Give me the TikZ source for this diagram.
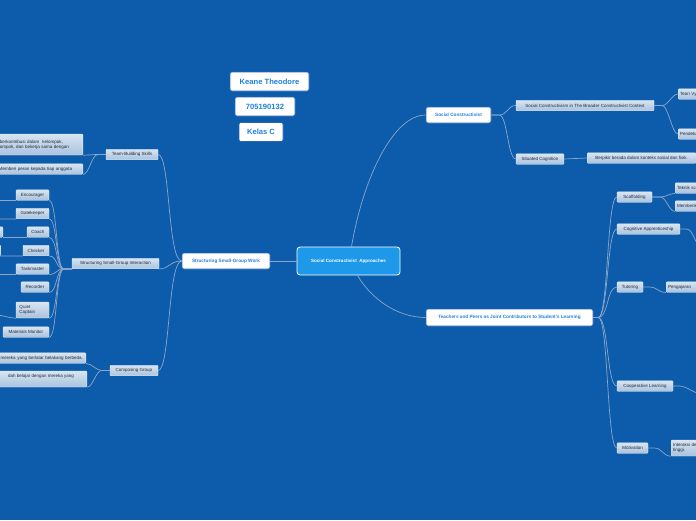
\documentclass[tikz,border=0pt]{standalone}
\usepackage{fontspec}
\setmainfont{Liberation Sans}
\definecolor{bgc}{RGB}{12,92,171}
\definecolor{edgec}{RGB}{140,166,202}
\definecolor{subtop}{RGB}{216,229,242}
\definecolor{subbot}{RGB}{168,194,221}
\definecolor{subdraw}{RGB}{226,236,246}
\definecolor{subtext}{RGB}{35,40,50}
\definecolor{maintext}{RGB}{32,128,224}
\definecolor{maindraw}{RGB}{40,100,180}
\definecolor{rootfill}{RGB}{30,152,232}
\begin{document}
\begin{tikzpicture}[x=1pt,y=-1pt,
  sub/.style={rectangle, rounded corners=1pt, top color=subtop, bottom color=subbot, draw=subdraw, line width=0.4pt, inner xsep=2pt, inner ysep=0.5pt, minimum height=10.5pt, text=subtext, font=\fontsize{4.5}{5.3}\selectfont},
  mainb/.style={rectangle, rounded corners=2pt, fill=white, draw=maindraw, line width=0.6pt, inner sep=0pt, minimum height=16pt, text=maintext, font=\bfseries\fontsize{4.7}{5.5}\selectfont},
  info/.style={mainb, minimum height=19pt, font=\bfseries\fontsize{7.6}{9}\selectfont},
  rootb/.style={rectangle, rounded corners=3pt, fill=rootfill, draw=white, line width=0.8pt, inner sep=0pt, text=white, font=\bfseries\fontsize{4.6}{5.5}\selectfont},
  edge/.style={draw=edgec, line width=0.7pt}
]
\useasboundingbox (0,0) rectangle (696,520);
\fill[bgc] (0,0) rectangle (696,520);

% info
\node[info, minimum width=79pt] (kt) at (269.5,81.5) {Keane Theodore};
\node[info, minimum width=60pt] (nim) at (265,106.5) {705190132};
\node[info, minimum width=44pt] (kls) at (261,132) {Kelas C};

% root and main
\node[rootb, minimum width=103pt, minimum height=28pt] (root) at (348.5,261) {\raisebox{-2pt}{Social Constructivist~~Approaches}};
\node[mainb, minimum width=88pt] (ssgw) at (226,261) {Structuring Small-Group Work};
\node[mainb, minimum width=65pt] (sc) at (458.5,115) {Social Constructivist};
\node[mainb, minimum width=167pt, minimum height=17pt] (tp) at (509.5,317.5) {Teachers and Peers as Joint Contributors to Student's Learning};

% left level 2
\node[sub, minimum width=52pt] (tbs) at (132,154.5) {Team-Building Skills};
\node[sub, minimum width=87pt] (ssgi) at (115.5,263.5) {Structuring Small-Group Interaction};
\node[sub, minimum width=48pt] (cg) at (134,370.5) {Composing Group};

% left level 3
\node[sub, anchor=east, text width=81pt, align=left, minimum height=21pt] (tb1) at (83,144.5) {berkontribusi dalam~~kelompok,\\ompok, dan bekerja sama dengan};
\node[sub, anchor=east, text width=82pt, align=left] (tb2) at (83,169) {Memberi peran kepada tiap anggota};

\node[sub, minimum width=33pt] (enc) at (32.5,195) {Encourager};
\node[sub, minimum width=33pt] (gate) at (32.5,213.5) {Gatekeeper};
\node[sub, minimum width=22pt] (coach) at (38,232) {Coach};
\node[sub, minimum width=26pt] (chk) at (36,250.5) {Checker};
\node[sub, minimum width=33pt] (task) at (32.5,269) {Taskmaster};
\node[sub, minimum width=28pt] (rec) at (35,287) {Recorder};
\node[sub, text width=26pt, inner xsep=3.5pt, align=left, minimum height=16pt] (qc) at (32.5,310) {Quiet\\Captain};
\node[sub, minimum width=46pt] (mm) at (26,332) {Materials Monitor};
\node[sub, anchor=east, minimum width=14pt] (coachx) at (3,232) {};
\node[sub, anchor=east, minimum width=14pt] (chkx) at (1,250.5) {};

\node[sub, anchor=east, text width=86pt, inner xsep=3pt, align=right] (cg1) at (86,358) {mereka yang berlatar belakang berbeda.};
\node[sub, anchor=east, minimum width=94pt, minimum height=16pt] (cg2) at (87,379) {};
\node[anchor=east, inner sep=0pt, text=subtext, font=\fontsize{4.5}{5.3}\selectfont] (cg2t) at (74,376.5) {dah belajar dengan mereka yang};

% right level 2/3
\node[sub, minimum width=138pt] (scb) at (585,105.5) {Social Constructivism in The Broader Constructivist Context};
\node[sub, minimum width=48pt] (sit) at (540,159) {Situated Cognition};
\node[sub, anchor=west, minimum width=109pt] (berp) at (587,158) {Berpikir berada dalam konteks sosial dan fisik.};
\node[sub, anchor=west, text width=40pt, align=left] (teori) at (678,94) {Teori Vygotsky};
\node[sub, anchor=west, text width=40pt, align=left] (pende) at (678,134) {Pendekatan};
\node[sub, minimum width=35pt] (scaf) at (634.5,197) {Scaffolding};
\node[sub, anchor=west, text width=40pt, align=left] (tek) at (675,188) {Teknik scaffolding};
\node[sub, anchor=west, text width=40pt, align=left] (memb) at (675,206) {Memberikan};
\node[sub, minimum width=63pt] (cog) at (648.5,229) {Cognitive Apprenticeship};
\node[sub, minimum width=26pt] (tut) at (630,287) {Tutoring};
\node[sub, anchor=west, text width=40pt, align=left] (peng) at (666,287) {Pengajaran};
\node[sub, minimum width=56pt] (coop) at (645,386) {Cooperative Learning};
\node[sub, minimum width=31pt] (mot) at (632.5,448) {Motivation};
\node[sub, anchor=west, text width=40pt, align=left, minimum height=16pt] (inter) at (671,448) {Interaksi dengan\\tinggi.};

\coordinate (cogx) at (702,246);
\coordinate (coopx) at (702,394);
\coordinate (encx) at (-4,200.5);
\coordinate (gatex) at (-4,219);
\coordinate (taskx) at (-4,274.5);
\coordinate (chky) at (-4,256);
\coordinate (qcx) at (-4,315);

% edges: root
\draw[edge] (root.west) -- (ssgw.east);
\draw[edge] ([xshift=3pt]root.north) .. controls +(12,-70) and +(-32,0) .. (sc.west);
\draw[edge] ([xshift=9pt]root.south) .. controls +(14,24) and +(-28,0) .. (tp.west);

% left
\draw[edge] (ssgw.west) .. controls +(-14,0) and +(12,0) .. (tbs.east);
\draw[edge] (ssgw.west) .. controls +(-12,0) and +(10,0) .. (ssgi.south east);
\draw[edge] (ssgw.west) .. controls +(-14,0) and +(12,0) .. (cg.east);

\draw[edge] (tbs.west) -- ++(-8,0) .. controls +(-6,0) and +(6,0) .. (tb1.south east);
\draw[edge] (tbs.west) -- ++(-8,0) .. controls +(-6,0) and +(6,0) .. (tb2.south east);

\foreach \r in {enc,gate,coach,chk,task,rec,qc,mm}{
  \draw[edge] (ssgi.south west) -- ++(-8,0) .. controls +(-8,0) and +(8,0) .. (\r.south east);
}
\draw[edge] (enc.south west) -- (encx);
\draw[edge] (gate.south west) -- (gatex);
\draw[edge] (coach.south west) -- (coachx.south east);
\draw[edge] (chk.south west) -- (chky);
\draw[edge] (task.south west) -- (taskx);
\draw[edge] (qc.south west) .. controls +(-6,0) and +(6,0) .. (qcx);

\draw[edge] (cg.west) -- ++(-8,0) .. controls +(-6,0) and +(6,0) .. (cg1.south east);
\draw[edge] (cg.west) -- ++(-8,0) .. controls +(-6,0) and +(6,0) .. (cg2.south east);

% right
\draw[edge] (sc.east) -- ++(8,0) .. controls +(8,0) and +(-8,0) .. (scb.west);
\draw[edge] (sc.east) -- ++(8,0) .. controls +(8,0) and +(-8,0) .. (sit.west);
\draw[edge] (scb.east) -- ++(8,0) .. controls +(6,0) and +(-6,0) .. (teori.west);
\draw[edge] (scb.east) -- ++(8,0) .. controls +(6,0) and +(-6,0) .. (pende.west);
\draw[edge] (sit.east) -- (berp.west);

\foreach \r in {scaf,cog,tut,coop,mot}{
  \draw[edge] (tp.east) -- ++(5,0) .. controls +(10,0) and +(-10,0) .. (\r.west);
}
\draw[edge] (scaf.east) -- ++(8,0) .. controls +(6,0) and +(-6,0) .. (tek.south west);
\draw[edge] (scaf.east) -- ++(8,0) .. controls +(6,0) and +(-6,0) .. (memb.south west);
\draw[edge] (cog.east) -- ++(6,0) .. controls +(8,0) and +(-8,0) .. (cogx);
\draw[edge] (tut.east) -- ++(6,0) .. controls +(8,0) and +(-8,0) .. (peng.south west);
\draw[edge] (coop.east) -- ++(6,0) .. controls +(8,0) and +(-8,0) .. (coopx);
\draw[edge] (mot.east) -- ++(6,0) .. controls +(8,0) and +(-8,0) .. (inter.south west);
\end{tikzpicture}
\end{document}
